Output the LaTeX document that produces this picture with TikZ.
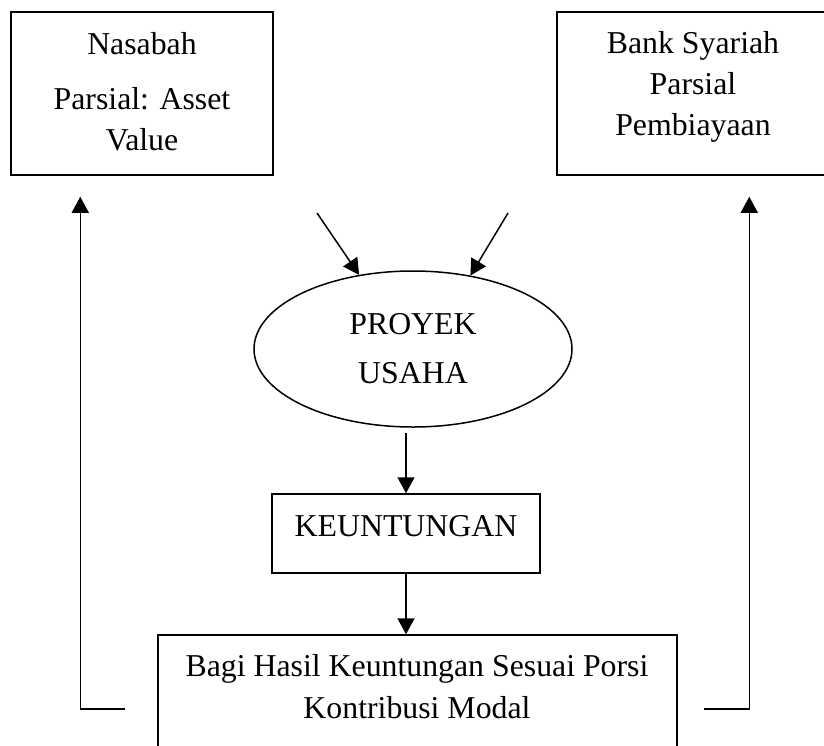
\documentclass[tikz,border=0pt]{standalone}
\usepackage{fontspec}
\setmainfont{Liberation Serif}
\usetikzlibrary{arrows.meta,positioning,calc,shapes.geometric}

\begin{document}
\begin{tikzpicture}[x=0.5pt,y=-0.5pt,line width=0.75pt,>={Triangle[length=8pt,width=8.5pt]},
  every node/.style={font=\fontsize{15.9pt}{20.5pt}\selectfont},
  boxnode/.style={draw,rectangle,inner sep=0pt},
  txt/.style={inner sep=0pt,align=center}]

\useasboundingbox (0,0) rectangle (824,745);
\clip (0,0) rectangle (824,745);

\node[boxnode,minimum width=131pt,minimum height=81.5pt] (nasabah) at (142,93.5) {};
\node[txt,anchor=north] (nasabah-text) at (142,31.3) {Nasabah\\[7pt] Parsial: Asset\\ Value};

\node[boxnode,minimum width=136.5pt,minimum height=81.5pt] (bank) at (693.5,93.5) {};
\node[txt,anchor=north] (bank-text) at (693,30.3) {Bank Syariah\\ Parsial\\ Pembiayaan};

\node[draw,ellipse,inner sep=0pt,minimum width=159pt,minimum height=78pt,align=center] (proyek) at (413,349) {PROYEK\\[4pt] USAHA};

\node[boxnode,minimum width=134pt,minimum height=39.5pt] (keuntungan) at (406,533.5) {};
\node[txt,anchor=base] (keuntungan-text) at (406,536) {KEUNTUNGAN};

\node[boxnode,minimum width=259.5pt,minimum height=82.5pt] (bagi) at (417.5,717.5) {};
\node[txt,anchor=north] (bagi-text) at (417,653.3) {Bagi Hasil Keuntungan Sesuai Porsi\\[0.5pt] Kontribusi Modal};

\coordinate (dari-nasabah) at (317,213);
\coordinate (dari-bank) at (508,213);
\draw[->] (dari-nasabah) -- (proyek.126);
\draw[->] (dari-bank) -- (proyek.52);

\draw[->,shorten <=2.5pt] (keuntungan.north |- proyek.south) -- (keuntungan.north);
\draw[->] (keuntungan.south) -- (keuntungan.south |- bagi.north);

\coordinate (balik-kiri) at (125,709);
\coordinate (balik-kanan) at (704,709);
\draw[->,shorten >=10.5pt] (balik-kiri) -| ([xshift=35pt]nasabah.south west);
\draw[->,shorten >=10.5pt] (balik-kanan) -| ([xshift=96.5pt]bank.south west);
\end{tikzpicture}
\end{document}
